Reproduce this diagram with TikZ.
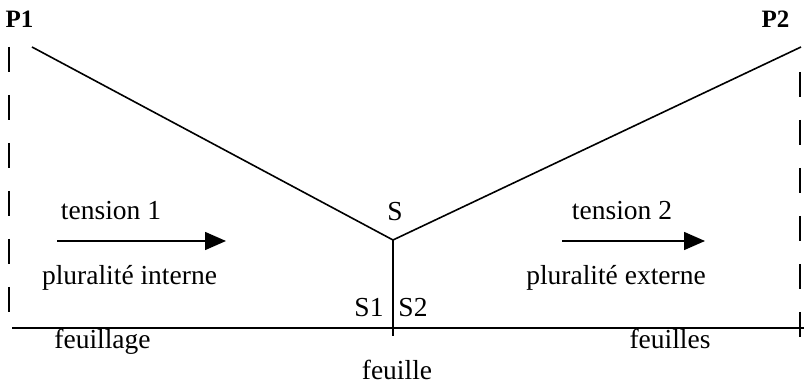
\documentclass[tikz,border=0pt]{standalone}
\usepackage{fontspec}
\setmainfont{Liberation Serif}
\usetikzlibrary{arrows.meta}
\begin{document}
\begin{tikzpicture}[x=1pt,y=-1pt,
  line/.style={line width=1.6pt},
  bound/.style={line width=1.6pt,dash pattern=on 25pt off 23pt},
  push/.style={line width=1.6pt,-{Triangle[length=21pt,width=18pt]}},
  lbl/.style={inner sep=0pt,anchor=base,font=\fontsize{27.5}{32}\selectfont},
  pole/.style={lbl,font=\fontsize{25}{30}\selectfont\bfseries}]
\useasboundingbox (0,0) rectangle (804,387);

% poles and frame
\node[pole] (P1) at (19.5,28) {P1};
\node[pole] (P2) at (775.5,28) {P2};
\coordinate (p1top) at (9,47);
\coordinate (p1bot) at (9,312);
\coordinate (p2top) at (800,72);
\coordinate (p2bot) at (800,337);
\draw[bound] (p1top) -- (p1bot);
\draw[bound] (p2top) -- (p2bot);

% branches meeting at S
\coordinate (a1) at (32,47);
\coordinate (a2) at (801,47);
\coordinate (s) at (393,240);
\coordinate (sbot) at (393,336);
\draw[line] (a1) -- (s) -- (a2);
\draw[line] (s) -- (sbot);
\node[lbl] (S) at (395,221) {S};
\node[lbl] (S1) at (369,317) {S1};
\node[lbl] (S2) at (413,317) {S2};

% ground line
\coordinate (g1) at (12,328);
\coordinate (g2) at (804,328);
\draw[line] (g1) -- (g2);
\node[lbl] (feuillage) at (102.5,349) {feuillage};
\node[lbl] (feuilles) at (670,349) {feuilles};
\node[lbl] (feuille) at (397,380) {feuille};

% tensions
\node[lbl] (t1) at (111,220) {tension 1};
\coordinate (t1a) at (57,241);
\coordinate (t1b) at (226,241);
\draw[push] (t1a) -- (t1b);
\node[lbl] (pi) at (129.5,285) {pluralité interne};

\node[lbl] (t2) at (622,220) {tension 2};
\coordinate (t2a) at (562,241);
\coordinate (t2b) at (705,241);
\draw[push] (t2a) -- (t2b);
\node[lbl] (pe) at (616,285) {pluralité externe};
\end{tikzpicture}
\end{document}
